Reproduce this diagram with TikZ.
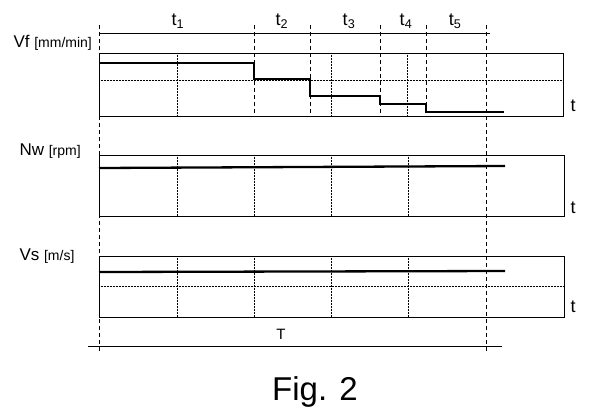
\documentclass[tikz,border=0pt]{standalone}
\usepackage{fontspec}
\setmainfont{Liberation Sans}
\usetikzlibrary{positioning}

\newcommand{\unitfont}{\fontsize{14}{14}\selectfont}

\begin{document}
\begin{tikzpicture}[x=1pt,y=-1pt,
		plotbox/.style={draw,line width=1pt},
		gridline/.style={densely dotted,line width=0.5pt},
		timeline/.style={dashed,dash pattern=on 4pt off 3pt,line width=0.8pt},
		signal/.style={line width=2.3pt},
		axis/.style={font=\fontsize{18}{18}\selectfont},
		quantity/.style={anchor=west,font=\fontsize{17}{17}\selectfont}]
	\useasboundingbox (0,0) rectangle (600,416);
	% boxes
	\draw[plotbox] (99,53) rectangle (563,116);
	\draw[plotbox] (99,155) rectangle (564,216);
	\draw[plotbox] (99,256) rectangle (564,317);
	% grid
	\foreach \x in {177,331,407}
		\draw[gridline] (\x,53) -- (\x,116);
	\foreach \x in {177,254,331,408}
		\draw[gridline] (\x,155) -- (\x,216)
			(\x,256) -- (\x,317);
	\draw[gridline] (99,80) -- (563,80);
	\draw[gridline] (99,286) -- (564,286);
	% time marks
	\draw[line width=1pt] (99,33) -- (490,33);
	\foreach \x in {254,310,380,426}
		\draw[timeline] (\x,25) -- (\x,116);
	\draw[timeline] (99,25) -- (99,352);
	\draw[timeline] (486,25) -- (486,352);
	\draw[line width=1pt] (88,346) -- (502,346);
	% signals
	\draw[signal] (99,63) -- (254,63) -- (254,79) -- (310,79) -- (310,96)
		-- (380,96) -- (380,104) -- (426,104) -- (426,112) -- (504,112);
	\draw[signal] (99,168) -- (505,166);
	\draw[signal] (99,272) -- (505,271);
	% labels
	\node[axis] (t1) at (178,21) {t\textsubscript{1}};
	\node[axis] (t2) at (282,21) {t\textsubscript{2}};
	\node[axis] (t3) at (349,21) {t\textsubscript{3}};
	\node[axis] (t4) at (406,21) {t\textsubscript{4}};
	\node[axis] (t5) at (455,21) {t\textsubscript{5}};
	\node[axis] (tVf) at (573,106) {t};
	\node[axis] (tNw) at (573,208) {t};
	\node[axis] (tVs) at (573,307) {t};
	\node[font=\fontsize{15}{15}\selectfont] (T) at (281,334) {T};
	\node[quantity] (Vf) at (10,43) {Vf {\unitfont[mm/min]}};
	\node[quantity] (Nw) at (16,151) {Nw {\unitfont[rpm]}};
	\node[quantity] (Vs) at (16,256) {Vs {\unitfont[m/s]}};
	\node[font=\fontsize{33}{33}\selectfont] (fig) at (315,392) {Fig. 2};
\end{tikzpicture}
\end{document}
